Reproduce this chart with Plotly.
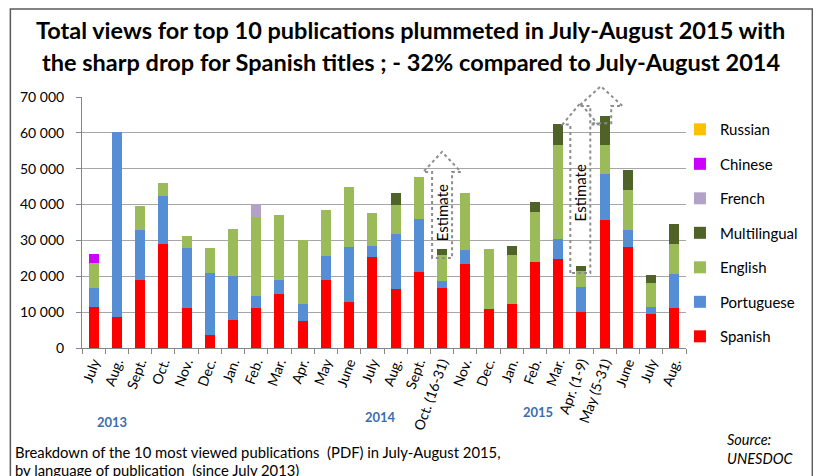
import plotly.graph_objs as go

# periods on the x axis (unique keys) and the labels shown under them
period_keys = ['2013-07', '2013-08', '2013-09', '2013-10', '2013-11', '2013-12',
               '2014-01', '2014-02', '2014-03', '2014-04', '2014-05', '2014-06',
               '2014-07', '2014-08', '2014-09', '2014-10', '2014-11', '2014-12',
               '2015-01', '2015-02', '2015-03', '2015-04', '2015-05', '2015-06',
               '2015-07', '2015-08']
period_labels = ['July', 'Aug.', 'Sept.', 'Oct.', 'Nov.', 'Dec.',
                 'Jan.', 'Feb.', 'Mar.', 'Apr.', 'May', 'June',
                 'July', 'Aug.', 'Sept.', 'Oct. (16-31)', 'Nov.', 'Dec.',
                 'Jan.', 'Feb.', 'Mar.', 'Apr. (1-9)', 'May (5-31)', 'June',
                 'July', 'Aug.']

# views by language
spanish = [11300, 8700, 19100, 28900, 11100, 3700,
           7700, 11100, 15000, 7400, 18900, 12800,
           25300, 16400, 21300, 16700, 23500, 11000,
           12300, 24000, 24700, 10000, 35800, 28300,
           9600, 11200]
portuguese = [5400, 51500, 13800, 13400, 16700, 17100,
              12300, 3300, 3900, 4800, 6700, 15500,
              3100, 15400, 14600, 1900, 3700, 0,
              0, 0, 5700, 6900, 12600, 4700,
              1900, 9300]
english = [7100, 0, 6600, 3800, 3300, 7100,
           13200, 22000, 18200, 18000, 13000, 16600,
           9300, 8100, 11800, 7200, 15900, 16700,
           13700, 13800, 26100, 4700, 8300, 11000,
           6600, 8400]
multilingual = [0, 0, 0, 0, 0, 0,
                0, 0, 0, 0, 0, 0,
                0, 3300, 0, 1800, 0, 0,
                2500, 3000, 5900, 1400, 8100, 5700,
                2300, 5800]
french = [0, 0, 0, 0, 0, 0,
          0, 3900, 0, 0, 0, 0,
          0, 0, 0, 0, 0, 0,
          0, 0, 0, 0, 0, 0,
          0, 0]
chinese = [2300, 0, 0, 0, 0, 0,
           0, 0, 0, 0, 0, 0,
           0, 0, 0, 0, 0, 0,
           0, 0, 0, 0, 0, 0,
           0, 0]
russian = [0] * 26

y_max = 70000

# stacking order bottom -> top; legend shows it top -> bottom reversed
series = [
    ('Spanish', spanish, '#FF0000'),
    ('Portuguese', portuguese, '#558ED5'),
    ('English', english, '#9BBB59'),
    ('Multilingual', multilingual, '#4F6228'),
    ('French', french, '#B3A2C7'),
    ('Chinese', chinese, '#CC00FF'),
    ('Russian', russian, '#FFC000'),
]

FONT = 'Lato'

fig = go.Figure()
for i, (name, vals, color) in enumerate(series):
    fig.add_trace(go.Bar(x=period_keys, y=vals, name=name, legendgroup=name,
                         legendrank=len(series) - i,
                         marker=dict(color=color, line=dict(width=0))))


def arrow_path(xc, base, shoulder, tip, shaft, wing):
    # block arrow pointing up, x in category units, y as fraction of axis
    b, s, t = base / y_max, shoulder / y_max, tip / y_max
    return (f'M{xc - shaft},{b} L{xc - shaft},{s} L{xc - wing},{s} L{xc},{t} '
            f'L{xc + wing},{s} L{xc + shaft},{s} L{xc + shaft},{b} Z')


arrows = [
    (15, 25100, 49100, 54700, 0.43, 0.81),
    (20.95, 20900, 62300, 68300, 0.43, 0.77),
    (21.83, 62700, 67500, 73000, 0.45, 0.94),
]
for xc, base, sh, tip, shaft, wing in arrows:
    fig.add_shape(type='path', xref='x', yref='y domain',
                  path=arrow_path(xc, base, sh, tip, shaft, wing),
                  line=dict(color='#8C8C8C', width=2, dash='dot'))

for xc, yv in [(15, 37600), (20.95, 43200)]:
    fig.add_annotation(x=xc, y=yv / y_max, xref='x', yref='y domain', text='Estimate',
                       textangle=-90, showarrow=False, xanchor='center', yanchor='middle',
                       font=dict(family=FONT, size=15, color='#000000'))

# outer frame
fig.add_shape(type='rect', xref='paper', yref='paper', x0=-0.1186, x1=1.2092,
              y0=-0.6, y1=1.3506, line=dict(color='#595959', width=1.5))


def note(text, x, y, size, color='#000000', xanchor='center'):
    fig.add_annotation(x=x, y=y, xref='paper', yref='paper', showarrow=False,
                       xanchor=xanchor, yanchor='middle', text=text,
                       font=dict(family=FONT, size=size, color=color))


# title lines
note('<b>Total views for top 10 publications plummeted in July-August 2015 with</b>', 0.544, 1.267, 23.5)
note('<b>the sharp drop for Spanish titles ; - 32% compared to July-August 2014</b>', 0.544, 1.139, 23.5)

# year labels
note('<b>2013</b>', 0.049, -0.294, 13, '#3D6DAB')
note('<b>2014</b>', 0.494, -0.274, 13, '#3D6DAB')
note('<b>2015</b>', 0.7545, -0.256, 13, '#3D6DAB')

# footnote and source
note('Breakdown of the 10 most viewed publications  (PDF) in July-August 2015,', -0.114, -0.414, 14.8,
     xanchor='left')
note('by language of publication  (since July 2013)', -0.114, -0.488, 14.8, xanchor='left')
note('<i>Source:</i>', 1.064, -0.363, 14.5, xanchor='left')
note('<i>UNESDOC</i>', 1.064, -0.442, 14.5, xanchor='left')

# the page adds an 8px body margin, so the figure is 8px smaller on each side
fig.update_layout(
    width=813, height=468,
    margin=dict(l=71, r=135, t=89, b=128),
    paper_bgcolor='white', plot_bgcolor='white',
    barmode='stack', bargap=0.57,
    separators='. ',
    font=dict(family=FONT, size=13, color='#000000'),
    legend=dict(x=0.99, y=0.936, xanchor='left', yanchor='top',
                traceorder='grouped', tracegroupgap=12, maxheight=400,
                font=dict(family=FONT, size=15, color='#000000'),
                bgcolor='rgba(0,0,0,0)'),
    showlegend=True,
)
fig.update_xaxes(type='category', tickmode='array', tickvals=period_keys, ticktext=period_labels,
                 tickangle=-70, tickson='boundaries', ticks='outside', ticklen=5,
                 tickcolor='#868686', showline=True, linecolor='#868686', linewidth=1,
                 showgrid=False, tickfont=dict(family=FONT, size=14, color='#000000'))
fig.update_yaxes(range=[0, y_max], dtick=10000, tickformat=',d', ticks='outside', ticklen=5,
                 tickcolor='#868686', showline=True, linecolor='#868686', linewidth=1,
                 showgrid=True, gridcolor='#A6A6A6', gridwidth=1, zeroline=False,
                 ticklabelstandoff=9,
                 tickfont=dict(family=FONT, size=14, color='#000000'))

fig.write_html('out.html')
